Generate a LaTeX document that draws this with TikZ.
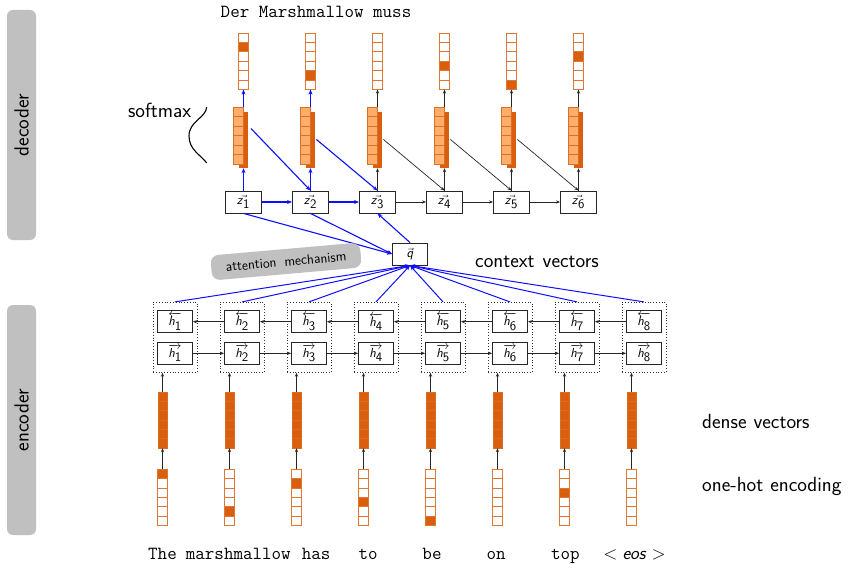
\documentclass[tikz,border=0pt]{standalone}
\usepackage{fix-cm}
\usepackage{fontspec}
\usetikzlibrary{arrows.meta,calc}

\definecolor{darkor}{RGB}{217,95,14}
\definecolor{lightor}{RGB}{253,174,107}
\definecolor{barg}{RGB}{192,192,192}
\definecolor{attblue}{RGB}{15,15,255}

\newcommand\sflab{\sffamily\fontsize{20.5}{23}\selectfont}
\newcommand\ttlab{\ttfamily\fontsize{18.5}{21}\selectfont}
\newcommand\boxlab{\fontsize{13}{14}\selectfont}
% sans italic symbol with a sans subscript
\newcommand\sv[2]{\textsf{\textit{#1}}_{\textsf{#2}}}

% a column of six cells: #1 x-centre, #2 top, #3 cell height, #4 filled cell (0 = none), #5 cell style
\newcommand\vecstack[5]{%
  \foreach \k in {1,...,6}{%
    \ifnum\k=#4\relax\def\cellfill{darkor}\else\def\cellfill{white}\fi
    \draw[fill=\cellfill,#5] ({#1-4.75},{#2+(\k-1)*#3}) rectangle ++(9.5,#3);
  }%
}

\tikzset{
  blk/.style={-{Stealth[length=4pt,width=3.2pt]}, draw=black!85, line width=0.7pt},
  blu/.style={-{Stealth[length=5pt,width=4pt]}, draw=attblue, line width=1.1pt},
  vframe/.style={draw=none, minimum width=9.5pt, inner sep=0pt},
  zbox/.style={draw=black!85, line width=0.9pt, fill=white, minimum width=36pt,
    minimum height=22pt, inner sep=0pt, font=\boxlab},
  hbox/.style={zbox, minimum width=35pt},
  dotbox/.style={draw=black!80, dotted, line width=0.8pt, minimum width=44pt,
    minimum height=70pt, inner sep=0pt},
  sidebar/.style={fill=barg, rounded corners=6pt, minimum width=29pt,
    minimum height=230pt, inner sep=0pt},
  ocell/.style={draw=darkor!85, line width=0.8pt},
  dcell/.style={fill=darkor, draw=darkor!92!white, line width=0.4pt},
  scell/.style={fill=lightor, draw=darkor!90!white, line width=0.8pt},
}

\begin{document}
\begin{tikzpicture}[x=1pt, y=-1pt]
\useasboundingbox (0,0) rectangle (848,564);
\fill[white] (0,0) rectangle (848,564);

% side bars
\node[sidebar] (decbar) at (21.5,125) {};
\node[rotate=90, font=\sflab] (declab) at (decbar) {decoder};
\node[sidebar] (encbar) at (21.5,420) {};
\node[rotate=90, font=\sflab] (enclab) at (encbar) {encoder};

% ---------------- encoder ----------------
\foreach \i/\f in {1/1,2/5,3/2,4/4,5/6,6/0,7/3,8/0} {
  \pgfmathsetmacro\ex{162.5+67*(\i-1)}
  \pgfmathsetmacro\hx{\ex+12.5}
  \node[dotbox] (db\i) at (\hx,337.3) {};
  \node[hbox] (hb\i) at (\hx,321.7) {$\overleftarrow{\sv{h}{\i}}$};
  \node[hbox] (hf\i) at (\hx,353.3) {$\overrightarrow{\sv{h}{\i}}$};
  \node[vframe, minimum height=56pt] (dv\i) at (\ex,420) {};
  \vecstack{\ex}{392}{9.333}{0}{dcell}
  \node[vframe, minimum height=56.7pt] (oh\i) at (\ex,497.35) {};
  \vecstack{\ex}{469}{9.45}{\f}{ocell}
  \draw[blk] (oh\i.north) -- (dv\i.south);
  \draw[blk] (dv\i.north) -- (dv\i.north |- db\i.south);
}
\foreach \i [evaluate=\i as \n using int(\i+1)] in {1,...,7} {
  \draw[blk] (hb\n.west) -- (hb\i.east);
  \draw[blk] (hf\i.east) -- (hf\n.west);
}

% input words
\node[font=\ttlab, anchor=base] (w1) at (162.5,559.5) {The};
\node[font=\ttlab, anchor=base] (w2) at (238.3,559.5) {marshmallow};
\node[font=\ttlab, anchor=base] (w3) at (316.2,559.5) {has};
\node[font=\ttlab, anchor=base] (w4) at (368.2,559.5) {to};
\node[font=\ttlab, anchor=base] (w5) at (432,559.5) {be};
\node[font=\ttlab, anchor=base] (w6) at (496.2,559.5) {on};
\node[font=\ttlab, anchor=base] (w7) at (565.3,559.5) {top};
\node[font=\ttlab, anchor=base] (w8) at (634.5,559.5)
  {$<$\hspace{5pt}\textsf{\textit{eos}}\hspace{5pt}$>$};

% ---------------- context vector ----------------
\node[zbox, minimum width=35pt] (q) at (410,254) {$\vec{\textsf{\textit{q}}}$};
\foreach \i in {1,...,8} {
  \draw[blu, line width=1pt] (db\i.north) -- (q.south);
}

% ---------------- decoder ----------------
\foreach \j/\f in {1/2,2/5,3/0,4/4,5/6,6/3} {
  \pgfmathsetmacro\dx{243.5+67*(\j-1)}
  \node[zbox] (z\j) at (\dx,202) {$\vec{\sv{z}{\j}}$};
  \node[vframe, minimum height=61pt] (sm\j) at (\dx,137.5) {};
  \fill[darkor] ({\dx-4.75},112) rectangle ({\dx+4.75},168);
  \foreach \k in {1,...,6} {
    \draw[scell] ({\dx-9.75},{107+(\k-1)*9.5}) rectangle ++(9.5,9.5);
  }
  \node[vframe, minimum height=56.4pt] (ot\j) at (\dx,61.2) {};
  \vecstack{\dx}{33}{9.4}{\f}{ocell}
}

% decoder connections
\foreach \j in {1,2} {
  \draw[blu] (z\j.north) -- (sm\j.south);
  \draw[blu] (sm\j.north) -- (ot\j.south);
}
\foreach \j in {3,...,6} {
  \draw[blk] (z\j.north) -- (sm\j.south);
  \draw[blk] (sm\j.north) -- (ot\j.south);
}
\draw[blu] ($(sm1.east)+(2.5,-9)$) -- (z2.north);
\draw[blu] ($(sm2.east)+(1,2)$) -- (z3.north);
\foreach \j [evaluate=\j as \n using int(\j+1)] in {3,4,5} {
  \draw[blk] ($(sm\j.east)+(1,2)$) -- (z\n.north);
}
\draw[blu] (z1.east) -- (z2.west);
\draw[blu] (z2.east) -- (z3.west);
\foreach \j [evaluate=\j as \n using int(\j+1)] in {3,4,5} {
  \draw[blk] (z\j.east) -- (z\n.west);
}
\draw[blu] (z1.south) -- (q.west);
\draw[blu] (z2.south) -- (q.west);
\draw[blu] (q.north) -- (z3.south);

% output words
\node[font=\ttlab, anchor=base] (out) at (316,18) {Der Marshmallow muss};

% softmax brace
\node[font=\sflab, anchor=base] (smlab) at (159.7,118) {softmax};
\draw[line width=1.1pt] (206.7,107) .. controls (206,118) and (189,121) .. (189,136)
  .. controls (189,150) and (201,155) .. (206.7,163);

% attention label
\node[fill=barg, rounded corners=8pt, rotate=5, minimum width=150pt, minimum height=25pt,
  inner sep=0pt, font=\sffamily\fontsize{13.8}{15}\selectfont] (att) at (286,261.5)
  {attention\hspace{8pt}mechanism};

% side captions
\node[font=\sflab, anchor=base west, inner sep=0pt] (ctx) at (475,267) {context\hspace{8pt}vectors};
\node[font=\sflab, anchor=base west, inner sep=0pt] (dense) at (702,428) {dense\hspace{7pt}vectors};
\node[font=\sflab, anchor=base west, inner sep=0pt] (onehot) at (702,491.5) {one-hot\hspace{7pt}encoding};
\end{tikzpicture}
\end{document}
